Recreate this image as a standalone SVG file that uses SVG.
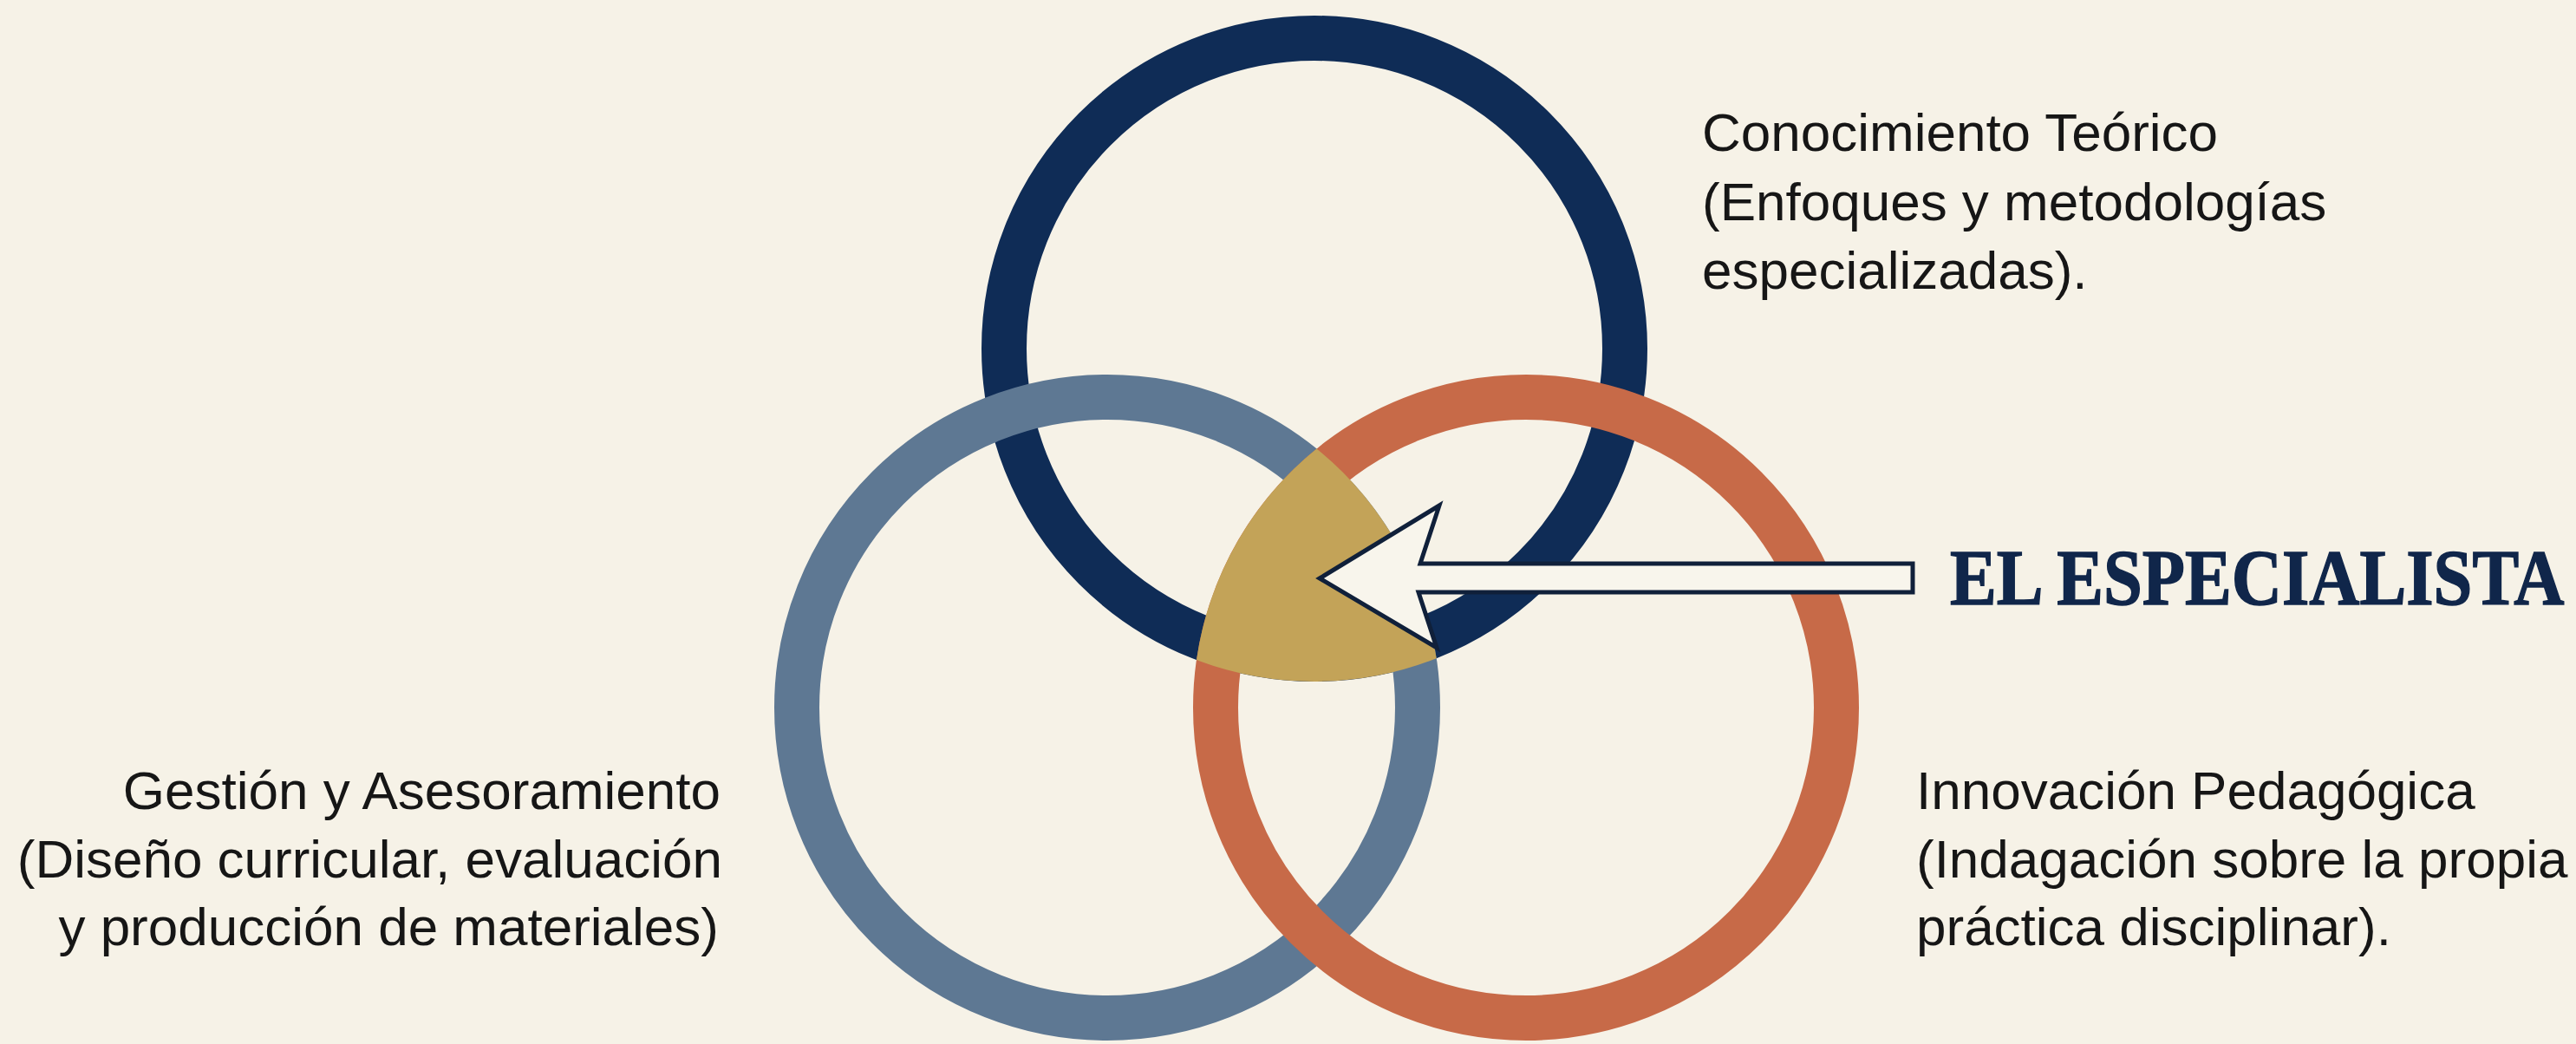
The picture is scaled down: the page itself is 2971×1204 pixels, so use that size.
<svg xmlns="http://www.w3.org/2000/svg" width="2971" height="1204" viewBox="0 0 2971 1204">
<style>
.ring{fill:none;stroke-width:52}
.lbl{font-family:"Liberation Sans",Arial,sans-serif;font-size:62px;fill:#161616}
.title{font-family:"Liberation Serif","Times New Roman",serif;font-weight:bold;font-size:92px;fill:#10264A;stroke:#10264A;stroke-width:1.5}
</style>
<rect x="0" y="0" width="2971" height="1204" fill="#F6F2E7"/>
<g id="ring-teorico"><circle class="ring" cx="1516" cy="402" r="358" stroke="#0F2C56"/></g>
<g id="ring-gestion"><circle class="ring" cx="1277" cy="816" r="358" stroke="#5E7893"/></g>
<g id="ring-innovacion"><circle class="ring" cx="1760" cy="816" r="358" stroke="#C76A48"/></g>
<g id="centro"><path d="M1518.5 517.4 A384 384 0 0 0 1380 761.1 A384 384 0 0 0 1656.7 759.2 A384 384 0 0 0 1518.5 517.4 Z" fill="#C3A358"/></g>
<g id="connectors">
<polygon points="1522,667 1660,583 1638,650 2206,650 2206,683 1636,683 1657,747" fill="#F8F5EC" stroke="#10203A" stroke-width="5" stroke-linejoin="miter"/>
</g>
<g id="label-especialista"><text class="title" transform="scale(0.876 1)" x="2567.4" y="697">EL ESPECIALISTA</text></g>
<g id="label-teorico">
<text class="lbl" x="1963" y="174">Conocimiento Teórico</text>
<text class="lbl" x="1963" y="254">(Enfoques y metodologías</text>
<text class="lbl" x="1963" y="333">especializadas).</text>
</g>
<g id="label-gestion" text-anchor="end">
<text class="lbl" x="831" y="933">Gestión y Asesoramiento</text>
<text class="lbl" x="833" y="1012">(Diseño curricular, evaluación</text>
<text class="lbl" x="829" y="1090">y producción de materiales)</text>
</g>
<g id="label-innovacion">
<text class="lbl" x="2210" y="933">Innovación Pedagógica</text>
<text class="lbl" x="2210" y="1012">(Indagación sobre la propia</text>
<text class="lbl" x="2210" y="1090">práctica disciplinar).</text>
</g>
</svg>
